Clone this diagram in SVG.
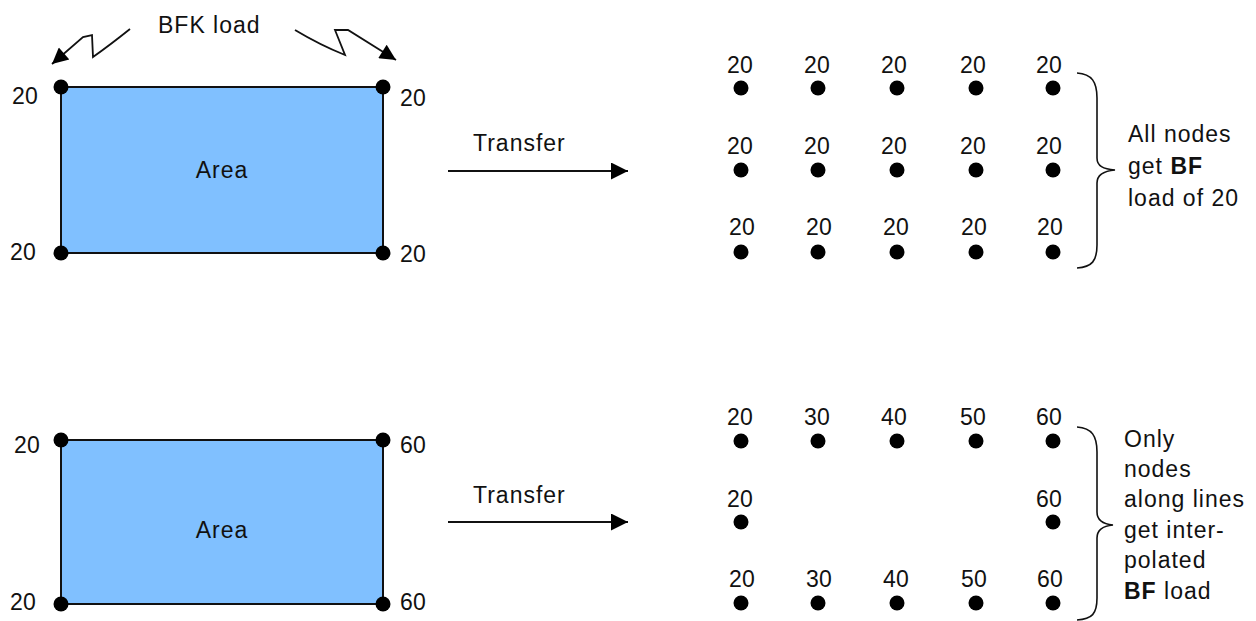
<svg xmlns="http://www.w3.org/2000/svg" width="1256" height="621" viewBox="0 0 1256 621">
<style>
text{font-family:"Liberation Sans",Arial,sans-serif;font-size:23px;fill:#111}
.n{letter-spacing:0.3px}
.t{letter-spacing:1px}
.area{fill:#80C0FF;stroke:#111;stroke-width:2}
.dot{fill:#000}
.ln{fill:none;stroke:#111;stroke-width:1.8}
.br{fill:none;stroke:#111;stroke-width:1.6}
</style>
<defs>
<marker id="ah2" viewBox="0 0 10 10" refX="10" refY="5" markerWidth="20" markerHeight="17" markerUnits="userSpaceOnUse" orient="auto">
<path d="M0,0 L10,5 L0,10 Z" fill="#000"/>
</marker>
<marker id="ah3" viewBox="0 0 10 10" refX="10" refY="5" markerWidth="19" markerHeight="16" markerUnits="userSpaceOnUse" orient="auto">
<path d="M0,0 L10,5 L0,10 Z" fill="#000"/>
</marker>
</defs>

<g id="area1">
<rect class="area" x="61" y="87" width="322" height="166"/>
<text x="222" y="178" text-anchor="middle" class="t">Area</text>
<circle class="dot" cx="61" cy="87" r="7.5"/><circle class="dot" cx="383" cy="87" r="7.5"/>
<circle class="dot" cx="61" cy="253" r="7.5"/><circle class="dot" cx="383" cy="253" r="7.5"/>
<text class="n" x="12" y="104">20</text><text class="n" x="400" y="106">20</text>
<text class="n" x="10" y="260">20</text><text class="n" x="400" y="262">20</text>
<text x="158" y="33" class="t">BFK load</text>
</g>

<g id="area2">
<rect class="area" x="61" y="440" width="322" height="164"/>
<text x="222" y="538" text-anchor="middle" class="t">Area</text>
<circle class="dot" cx="61" cy="440" r="7.5"/><circle class="dot" cx="383" cy="440" r="7.5"/>
<circle class="dot" cx="61" cy="604" r="7.5"/><circle class="dot" cx="383" cy="604" r="7.5"/>
<text class="n" x="14" y="453">20</text><text class="n" x="400" y="453">60</text>
<text class="n" x="10" y="610">20</text><text class="n" x="400" y="610">60</text>
</g>

<g id="connectors">
<path class="ln" d="M130,29 Q110,45 93,57 L92,35 L83,37 L52,64" marker-end="url(#ah3)"/>
<path class="ln" d="M295,30 Q320,45 345,55 L335,30 L348,30 L396,60" marker-end="url(#ah3)"/>
<line class="ln" x1="448" y1="171" x2="628" y2="171" marker-end="url(#ah2)"/>
<line class="ln" x1="448" y1="522" x2="628" y2="522" marker-end="url(#ah2)"/>
</g>
<text x="473" y="151" class="t">Transfer</text>
<text x="473" y="503" class="t">Transfer</text>

<g id="grid1">
<g class="dot">
<circle cx="741" cy="88" r="7.5"/><circle cx="818" cy="88" r="7.5"/><circle cx="897" cy="88" r="7.5"/><circle cx="976" cy="88" r="7.5"/><circle cx="1053" cy="88" r="7.5"/>
<circle cx="741" cy="170" r="7.5"/><circle cx="818" cy="170" r="7.5"/><circle cx="897" cy="170" r="7.5"/><circle cx="976" cy="170" r="7.5"/><circle cx="1053" cy="170" r="7.5"/>
<circle cx="741" cy="252" r="7.5"/><circle cx="818" cy="252" r="7.5"/><circle cx="897" cy="252" r="7.5"/><circle cx="976" cy="252" r="7.5"/><circle cx="1053" cy="252" r="7.5"/>
</g>
<g class="n">
<text x="727" y="73">20</text><text x="804" y="73">20</text><text x="881" y="73">20</text><text x="960" y="73">20</text><text x="1036" y="73">20</text>
<text x="727" y="154">20</text><text x="804" y="154">20</text><text x="881" y="154">20</text><text x="960" y="154">20</text><text x="1036" y="154">20</text>
<text x="729" y="235">20</text><text x="806" y="235">20</text><text x="883" y="235">20</text><text x="961" y="235">20</text><text x="1037" y="235">20</text>
</g>
<path class="br" d="M1077,73 C1092,74 1097,82 1097,98 L1097,158 C1097,166 1103,169 1115,170 C1103,171 1097,175 1097,183 L1097,245 C1097,261 1092,267 1077,268"/>
<text x="1128" y="142" class="t">All nodes</text>
<text x="1128" y="174" class="t">get <tspan font-weight="bold">BF</tspan></text>
<text x="1128" y="206" class="t" letter-spacing="0.5">load of 20</text>
</g>

<g id="grid2">
<g class="dot">
<circle cx="741" cy="441" r="7.5"/><circle cx="818" cy="441" r="7.5"/><circle cx="897" cy="441" r="7.5"/><circle cx="976" cy="441" r="7.5"/><circle cx="1053" cy="441" r="7.5"/>
<circle cx="741" cy="522" r="7.5"/><circle cx="1053" cy="522" r="7.5"/>
<circle cx="741" cy="603" r="7.5"/><circle cx="818" cy="603" r="7.5"/><circle cx="897" cy="603" r="7.5"/><circle cx="976" cy="603" r="7.5"/><circle cx="1053" cy="603" r="7.5"/>
</g>
<g class="n">
<text x="727" y="425">20</text><text x="804" y="425">30</text><text x="881" y="425">40</text><text x="960" y="425">50</text><text x="1036" y="425">60</text>
<text x="727" y="507">20</text><text x="1036" y="507">60</text>
<text x="729" y="587">20</text><text x="806" y="587">30</text><text x="883" y="587">40</text><text x="961" y="587">50</text><text x="1037" y="587">60</text>
</g>
<path class="br" d="M1077,427 C1092,428 1097,436 1097,452 L1097,512 C1097,520 1102,524 1113,525 C1102,526 1097,530 1097,538 L1097,598 C1097,614 1092,619 1077,620"/>
<text x="1124" y="447" class="t">Only</text>
<text x="1124" y="477" class="t">nodes</text>
<text x="1124" y="507" class="t">along lines</text>
<text x="1124" y="538" class="t">get inter-</text>
<text x="1124" y="568" class="t">polated</text>
<text x="1124" y="599" class="t"><tspan font-weight="bold">BF</tspan> load</text>
</g>
</svg>
